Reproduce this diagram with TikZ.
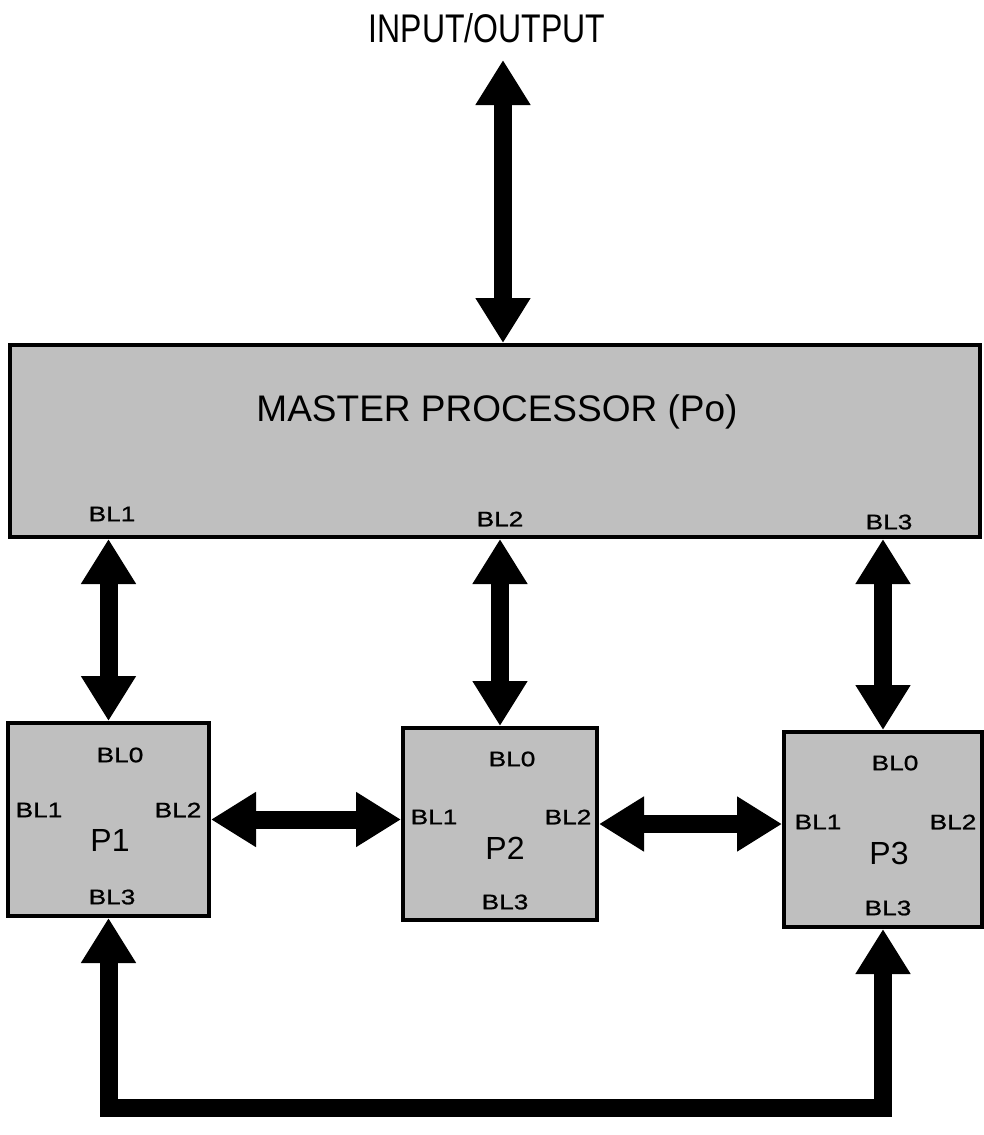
\documentclass[tikz,border=0pt]{standalone}
\usepackage{fontspec}
\setmainfont{Liberation Sans}
\newfontfamily\narrowfont[FakeStretch=0.8]{Liberation Sans}
\newfontfamily\widefont[FakeStretch=1.25,FakeBold=1]{Liberation Sans}
\usetikzlibrary{arrows.meta}
\begin{document}
\begin{tikzpicture}[x=1pt,y=-1pt,
  box/.style={draw=black, line width=4pt, fill=black!25, inner sep=0pt},
  bus/.style={line width=18pt, line join=miter,
    {Triangle[width=52pt,length=45pt]}-{Triangle[width=52pt,length=45pt]}},
  port/.style={inner sep=0pt, font=\widefont\fontsize{21}{21}\selectfont},
  pname/.style={inner sep=0pt, font=\fontsize{32}{32}\selectfont}]
\useasboundingbox (0,0) rectangle (984,1135);

% master processor and the three slave processors
\node[box, minimum width=970pt, minimum height=192pt] (master) at (495,441) {};
\node[box, minimum width=201pt, minimum height=193pt] (p1) at (108.5,819.5) {};
\node[box, minimum width=194pt, minimum height=192pt] (p2) at (500,824) {};
\node[box, minimum width=198pt, minimum height=195pt] (p3) at (883,829.5) {};

% texts
\node[inner sep=0pt, font=\narrowfont\fontsize{40}{40}\selectfont] (io) at (487,28) {INPUT/OUTPUT};
\coordinate (iotip) at (503,60);
\node[inner sep=0pt, font=\fontsize{37}{37}\selectfont] (mtitle) at (497,412) {MASTER PROCESSOR (Po)};
\node[port] (mbl1) at (112,514) {BL1};
\node[port] (mbl2) at (500,519) {BL2};
\node[port] (mbl3) at (889,522) {BL3};

\node[port] (p1bl0) at (120,755) {BL0};
\node[port] (p1bl1) at (39,810) {BL1};
\node[port] (p1bl2) at (178,810) {BL2};
\node[pname] (p1name) at (110,840) {P1};
\node[port] (p1bl3) at (112,897) {BL3};

\node[port] (p2bl0) at (512,759) {BL0};
\node[port] (p2bl1) at (434,817) {BL1};
\node[port] (p2bl2) at (568,817) {BL2};
\node[pname] (p2name) at (505,848) {P2};
\node[port] (p2bl3) at (505,902) {BL3};

\node[port] (p3bl0) at (895,763) {BL0};
\node[port] (p3bl1) at (818,822) {BL1};
\node[port] (p3bl2) at (953,822) {BL2};
\node[pname] (p3name) at (889,853) {P3};
\node[port] (p3bl3) at (888,908) {BL3};

% buses
\draw[bus] (iotip) -- (iotip |- master.north);
\draw[bus] (master.south -| p1.north) -- (p1.north);
\draw[bus] (master.south -| p2.north) -- (p2.north);
\draw[bus] (master.south -| p3.north) -- (p3.north);
\draw[bus] (p1.east) -- (p2.west |- p1.east);
\draw[bus] (p2.east) -- (p3.west |- p2.east);
\draw[bus] (p1.south) -- (p1.south |- 0,1108) -- (p3.south |- 0,1108) -- (p3.south);
\end{tikzpicture}
\end{document}
